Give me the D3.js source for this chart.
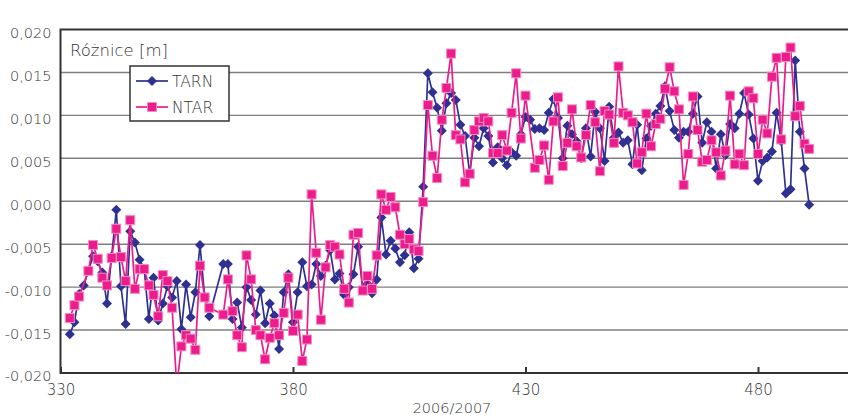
<!DOCTYPE html>
<html lang="pl">
<head>
<meta charset="UTF-8">
<title>Różnice TARN / NTAR</title>
<script src="https://d3js.org/d3.v7.min.js"></script>
<style>
    body { margin: 0; background: #fff; }
    svg { display: block; font-family: "DejaVu Sans", sans-serif; }
    .lbl { fill: #333; font-weight: 200; }
</style>
</head>
<body>
<div id="chart"></div>
<script>
// days (2006/2007 running day number); 363 and 364 are missing
const days = [332,333,334,335,336,337,338,339,340,341,342,343,344,345,346,347,348,349,350,351,
    352,353,354,355,356,357,358,359,360,361,362,
    365,366,367,368,369,370,371,372,373,374,375,376,377,378,379,380,381,382,383,384,
    385,386,387,388,389,390,391,392,393,394,395,396,397,398,399,400,401,402,403,404,
    405,406,407,408,409,410,411,412,413,414,415,416,417,418,419,420,421,422,423,424,
    425,426,427,428,429,430,431,432,433,434,435,436,437,438,439,440,441,442,443,444,
    445,446,447,448,449,450,451,452,453,454,455,456,457,458,459,460,461,462,463,464,
    465,466,467,468,469,470,471,472,473,474,475,476,477,478,479,480,481,482,483,484,
    485,486,487,488,489,490,491];

const tarn = [-0.0155,-0.0141,-0.0108,-0.0098,-0.0081,-0.0064,-0.0070,-0.0083,-0.0119,-0.0064,
    -0.0010,-0.0099,-0.0143,-0.0035,-0.0048,-0.0068,-0.0079,-0.0137,-0.0089,-0.0139,
    -0.0119,-0.0099,-0.0112,-0.0093,-0.0149,-0.0097,-0.0135,-0.0106,-0.0051,-0.0111,
    -0.0134,
    -0.0073,-0.0073,-0.0137,-0.0118,-0.0147,-0.0100,-0.0115,-0.0132,-0.0104,-0.0142,
    -0.0119,-0.0133,-0.0172,-0.0106,-0.0085,-0.0141,-0.0106,-0.0071,-0.0099,-0.0097,
    -0.0073,-0.0087,-0.0075,-0.0057,-0.0091,-0.0084,-0.0109,-0.0100,-0.0085,-0.0053,
    -0.0103,-0.0096,-0.0107,-0.0091,-0.0019,-0.0062,-0.0046,-0.0055,-0.0071,-0.0063,
    -0.0036,-0.0078,-0.0067,0.0017,0.0149,0.0127,0.0109,0.0082,0.0114,0.0126,
    0.0118,0.0089,0.0076,0.0032,0.0074,0.0064,0.0085,0.0076,0.0045,0.0063,
    0.0050,0.0042,0.0057,0.0053,0.0078,0.0098,0.0095,0.0084,0.0085,0.0083,
    0.0103,0.0119,0.0097,0.0050,0.0088,0.0078,0.0070,0.0050,0.0085,0.0052,
    0.0104,0.0085,0.0047,0.0110,0.0074,0.0080,0.0068,0.0071,0.0043,0.0089,
    0.0036,0.0073,0.0088,0.0102,0.0111,0.0134,0.0105,0.0083,0.0074,0.0081,
    0.0081,0.0102,0.0122,0.0068,0.0092,0.0081,0.0038,0.0078,0.0054,0.0090,
    0.0085,0.0102,0.0126,0.0101,0.0073,0.0024,0.0047,0.0051,0.0058,0.0103,
    0.0070,0.0009,0.0014,0.0164,0.0081,0.0038,-0.0004];

const ntar = [-0.0136,-0.0121,-0.0111,null,-0.0081,-0.0051,-0.0067,-0.0089,-0.0098,-0.0066,
    -0.0032,-0.0065,-0.0093,-0.0022,-0.0102,-0.0079,-0.0079,-0.0098,-0.0109,-0.0134,
    -0.0086,-0.0093,-0.0124,-0.0215,-0.0169,-0.0156,-0.0160,-0.0173,-0.0075,-0.0112,
    -0.0124,
    -0.0132,-0.0091,-0.0128,-0.0156,-0.0170,-0.0063,-0.0091,-0.0150,-0.0156,-0.0184,
    -0.0159,-0.0142,-0.0156,-0.0130,-0.0089,-0.0151,-0.0132,-0.0186,-0.0161,0.0008,
    -0.0060,-0.0138,-0.0077,-0.0051,-0.0053,-0.0062,-0.0102,-0.0118,-0.0039,-0.0037,
    -0.0104,-0.0087,-0.0102,-0.0063,0.0008,-0.0010,0.0005,-0.0007,-0.0039,-0.0050,
    -0.0044,-0.0056,-0.0058,-0.0001,0.0112,0.0053,0.0027,0.0095,0.0132,0.0172,
    0.0077,0.0072,0.0022,0.0032,0.0083,0.0093,0.0097,0.0093,0.0056,0.0056,
    0.0077,0.0059,0.0103,0.0149,0.0073,0.0123,null,0.0039,0.0048,0.0065,
    0.0025,0.0093,0.0121,0.0041,0.0068,0.0107,0.0064,0.0051,0.0077,0.0112,
    0.0092,0.0035,0.0105,0.0101,0.0068,0.0157,0.0103,0.0100,0.0092,0.0044,
    0.0057,0.0102,0.0064,0.0090,0.0096,0.0131,0.0156,0.0128,0.0107,0.0019,
    0.0055,0.0122,0.0083,0.0046,0.0048,0.0071,0.0057,0.0030,0.0059,0.0123,
    0.0043,0.0055,0.0042,0.0128,0.0120,0.0055,0.0095,0.0079,0.0145,0.0167,
    0.0072,0.0168,0.0179,0.0099,0.0111,0.0067,0.0061];

const yTicks = [-0.020,-0.015,-0.010,-0.005,0.000,0.005,0.010,0.015,0.020];
const xTicks = [330, 380, 430, 480];
const seriesNames = ["TARN", "NTAR"];

const width = 848, height = 416;
const plotLeft = 60.5, plotTop = 29.5, plotBottom = 373;

const x = d3.scaleLinear().domain([330, 500]).range([plotLeft, 851]);
const y = d3.scaleLinear().domain([-0.02, 0.02]).range([plotBottom, plotTop]);

const plFormat = d3.formatLocale({decimal: ",", thousands: " ", grouping: [3], currency: ["", ""], minus: "-"}).format(".3f");

const svg = d3.select("#chart").append("svg")
    .attr("width", width)
    .attr("height", height);

svg.append("defs").append("clipPath").attr("id", "plot")
    .append("rect").attr("x", plotLeft).attr("y", plotTop)
    .attr("width", width - plotLeft).attr("height", plotBottom - plotTop);

// horizontal grid
svg.append("g").selectAll("line")
    .data(yTicks.filter(v => v > -0.02 && v < 0.02))
    .enter().append("line")
    .attr("x1", plotLeft).attr("x2", width)
    .attr("y1", d => y(d)).attr("y2", d => y(d))
    .attr("stroke", "#7f7f7f")
    .attr("stroke-width", 1.4);

// frame (top, left, bottom)
svg.append("path")
    .attr("d", `M${width},${plotTop}H${plotLeft}V${plotBottom}H${width}`)
    .attr("fill", "none")
    .attr("stroke", "#333")
    .attr("stroke-width", 2);

// y axis labels
const yAxis = svg.append("g")
    .attr("transform", `translate(${plotLeft},0)`)
    .call(d3.axisLeft(y).tickValues(yTicks).tickFormat(plFormat).tickSize(0).tickPadding(9))
    .attr("font-family", null);
yAxis.select(".domain").remove();
yAxis.selectAll("text")
    .attr("class", "lbl")
    .attr("dy", "0.55em")
    .style("font-size", "14.5px");

// x axis
const xAxis = svg.append("g")
    .attr("transform", `translate(0,${plotBottom})`)
    .call(d3.axisBottom(x).tickValues(xTicks).tickSizeInner(-6).tickSizeOuter(0).tickPadding(11))
    .attr("font-family", null);
xAxis.select(".domain").remove();
xAxis.selectAll("line").attr("stroke", "#333").attr("stroke-width", 2);
xAxis.selectAll("text")
    .attr("class", "lbl")
    .style("font-size", "15px");

svg.append("text")
    .attr("class", "lbl")
    .attr("x", 452).attr("y", 413)
    .attr("text-anchor", "middle")
    .style("font-size", "14.5px")
    .text("2006/2007");

// series
const tarnData = days.map((d, i) => ({day: d, v: tarn[i]})).filter(p => p.v !== null);
const ntarData = days.map((d, i) => ({day: d, v: ntar[i]})).filter(p => p.v !== null);

const line = d3.line().x(p => x(p.day)).y(p => y(p.v));
const diamond = "M0,-5L5,0L0,5L-5,0Z";

const plot = svg.append("g").attr("clip-path", "url(#plot)");

plot.append("path")
    .datum(tarnData)
    .attr("d", line)
    .attr("fill", "none")
    .attr("stroke", "#2e3192")
    .attr("stroke-width", 1.7);

plot.selectAll(".tarn")
    .data(tarnData)
    .enter().append("path")
    .attr("class", "tarn")
    .attr("transform", p => `translate(${x(p.day)},${y(p.v)})`)
    .attr("d", diamond)
    .attr("fill", "#2e3192");

plot.append("path")
    .datum(ntarData)
    .attr("d", line)
    .attr("fill", "none")
    .attr("stroke", "#ec1c8c")
    .attr("stroke-width", 1.7);

plot.selectAll(".ntar")
    .data(ntarData)
    .enter().append("rect")
    .attr("class", "ntar")
    .attr("x", p => x(p.day) - 4.5)
    .attr("y", p => y(p.v) - 4.5)
    .attr("width", 9).attr("height", 9)
    .attr("fill", "#ec1c8c")
    .attr("stroke", "#f48cc2")
    .attr("stroke-width", 1);

// title inside the plot
svg.append("text")
    .attr("class", "lbl")
    .attr("x", 70).attr("y", 56)
    .style("font-size", "16.5px")
    .text("Różnice [m]");

// legend
const legend = svg.append("g").attr("transform", "translate(130,66)");
legend.append("rect")
    .attr("width", 99).attr("height", 55)
    .attr("fill", "#fff")
    .attr("stroke", "#333")
    .attr("stroke-width", 1.5);

const legendColors = ["#2e3192", "#ec1c8c"];
seriesNames.forEach((name, i) => {
    const ly = 15 + i * 26;
    legend.append("line")
        .attr("x1", 6).attr("x2", 38).attr("y1", ly).attr("y2", ly)
        .attr("stroke", legendColors[i]).attr("stroke-width", 1.7);
    if (i === 0) {
        legend.append("path")
            .attr("transform", `translate(22,${ly})`)
            .attr("d", diamond)
            .attr("fill", legendColors[i]);
    } else {
        legend.append("rect")
            .attr("x", 17.5).attr("y", ly - 4.5).attr("width", 9).attr("height", 9)
            .attr("fill", legendColors[i]).attr("stroke", "#f48cc2");
    }
    legend.append("text")
        .attr("class", "lbl")
        .attr("x", 42).attr("y", ly + 6)
        .style("font-size", "15.5px")
        .text(name);
});
</script>
</body>
</html>
